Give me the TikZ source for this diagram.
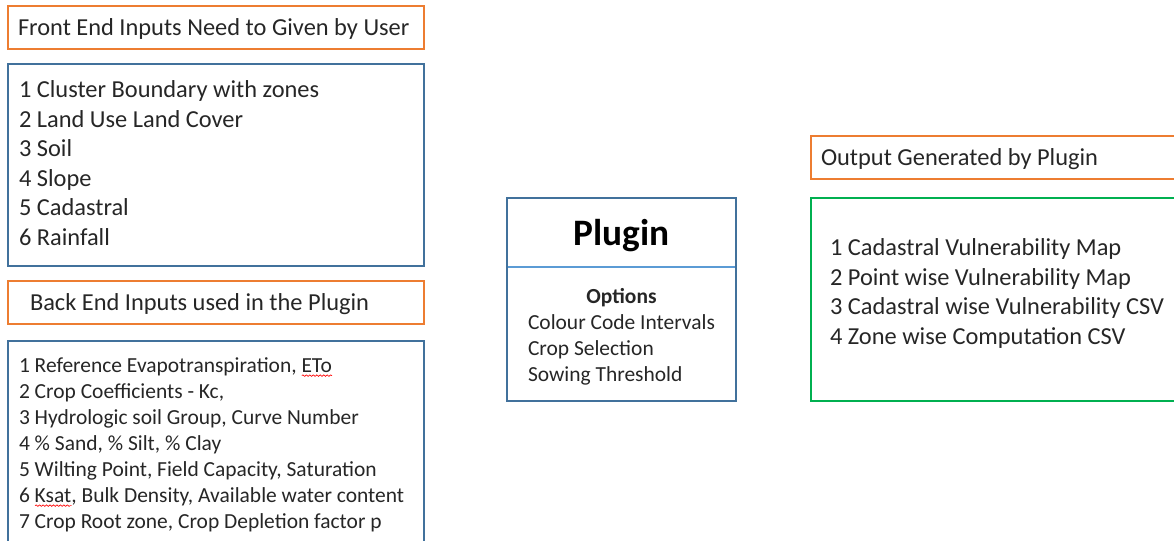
\documentclass[tikz,border=0pt]{standalone}
\usepackage{fontspec}
\setmainfont{Carlito}
\usetikzlibrary{positioning,decorations.pathmorphing}

\definecolor{boxorange}{HTML}{ED7D31}
\definecolor{boxblue}{HTML}{41719C}
\definecolor{lineblue}{HTML}{5B9BD5}
\definecolor{boxgreen}{HTML}{00B050}
\definecolor{textgray}{HTML}{262626}

% red spell-check wave under a word
\newsavebox\wavebox
\newcommand\spellwave[1]{\sbox\wavebox{#1}%
  \rlap{\raisebox{-3.5pt}{\tikz\draw[red, line width=0.5pt, decorate,
    decoration={snake, amplitude=0.55pt, segment length=2.6pt}] (0pt,0pt) -- (\wd\wavebox,0pt);}}#1}

\tikzset{
  headbox/.style={draw=boxorange, line width=1.5pt, anchor=north west, outer sep=0pt,
    inner xsep=7.5pt, minimum height=32pt, align=flush left, text=textgray, text depth=0pt,
    font=\fontsize{18.3}{22}\selectfont},
  listbox/.style={draw=boxblue, line width=1.5pt, anchor=north west, outer sep=0pt,
    inner xsep=8.25pt, text width=295.5pt, align=flush left, text=textgray,
    font=\fontsize{18.3}{22.1}\selectfont},
  smalltext/.style={font=\fontsize{16.1}{19.5}\selectfont}
}

\begin{document}
\begin{tikzpicture}[x=0.75pt, y=-0.75pt]
  \useasboundingbox (0,0) rectangle (1174,541);
  \clip (0,0) rectangle (1174,541);

  % Inputs
  \node[headbox, text width=297pt] (fronthead) at (8,6) {Front End Inputs Need to Given by User};
  \node[listbox, minimum height=151.5pt] (frontlist) at (8,64)
    {1 Cluster Boundary with zones\\ 2 Land Use Land Cover\\ 3 Soil\\ 4 Slope\\ 5 Cadastral\\ 6 Rainfall\par\vspace*{3pt}};
  \node[headbox, text width=279pt, inner xsep=16.5pt] (backhead) at (8,281) {Back End Inputs used in the Plugin};
  \node[listbox, smalltext, minimum height=155pt] (backlist) at (8,341)
    {1 Reference Evapotranspiration, \spellwave{ETo}\\
     2 Crop Coefficients - Kc,\\
     3 Hydrologic soil Group, Curve Number\\
     4 \% Sand, \% Silt, \% Clay\\
     5 Wilting Point, Field Capacity, Saturation\\
     6 \spellwave{Ksat}, Bulk Density, Available water content\\
     7 Crop Root zone, Crop Depletion factor p};

  % Plugin
  \node[draw=boxblue, line width=1.5pt, anchor=north west, outer sep=0pt,
    minimum width=171.75pt, minimum height=152.25pt] (plugin) at (507,198) {};
  \node[minimum width=171.75pt, minimum height=51.75pt, anchor=north, outer sep=0pt, text depth=0pt,
    font=\fontsize{28}{32}\selectfont\bfseries] (plugname) at (plugin.north) {Plugin};
  \draw[lineblue, line width=1.5pt] ([xshift=0.75pt]plugname.south west) -- ([xshift=-0.75pt]plugname.south east);
  \node[minimum width=171.75pt, minimum height=100.5pt, outer sep=0pt, smalltext, text=textgray,
    below=2.25pt of plugname] (options)
    {\begin{tabular}{@{}l@{}}
       \multicolumn{1}{@{}c@{}}{\bfseries Options}\\
       Colour Code Intervals\\
       Crop Selection\\
       Sowing Threshold
     \end{tabular}};

  % Outputs
  \node[headbox, text width=269.25pt] (outhead) at (811,136) {Output Generated by Plugin};
  \node[listbox, draw=boxgreen, text width=255.75pt, inner xsep=14.25pt, minimum height=152.25pt] (outlist) at (811,198)
    {1 Cadastral Vulnerability Map\\ 2 Point wise Vulnerability Map\\ 3 Cadastral wise Vulnerability CSV\\ 4 Zone wise Computation CSV\par\vspace*{9pt}};
\end{tikzpicture}
\end{document}
